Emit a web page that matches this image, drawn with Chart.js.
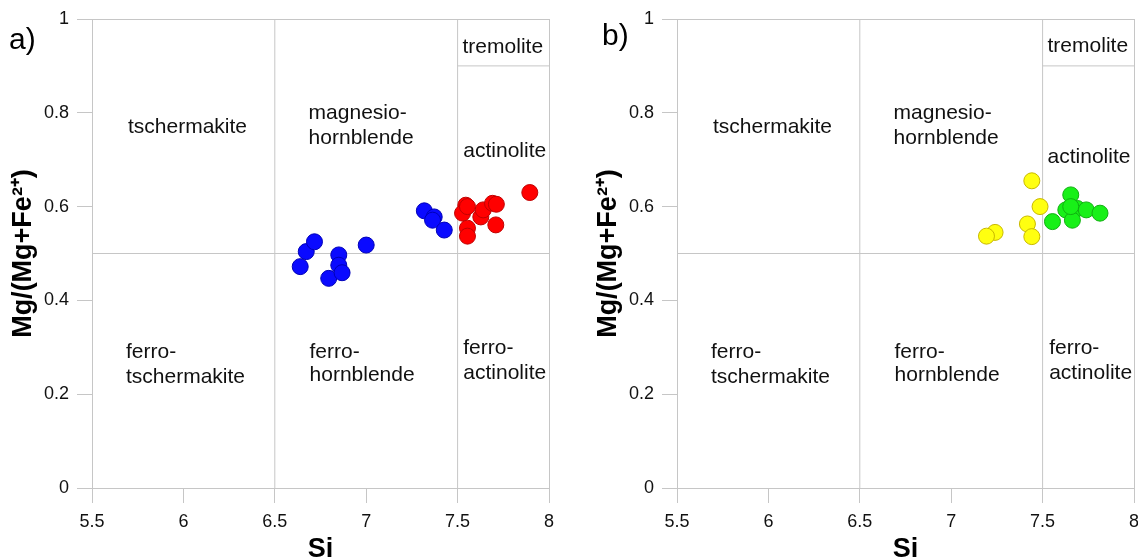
<!DOCTYPE html>
<html>
<head>
<meta charset="utf-8">
<script src="https://cdn.jsdelivr.net/npm/chart.js@4.4.1/dist/chart.umd.min.js"></script>
<style>
  html, body { margin: 0; padding: 0; background: #fff; overflow: hidden; width: 1138px; height: 559px; }
  .panel { position: absolute; top: 0; }
  canvas { display: block; }
  .tag { position: absolute; font: 30px/30px "Liberation Sans", Arial, sans-serif; color: #000; }
</style>
</head>
<body>
<div class="panel" style="left:0"><canvas id="chartA" width="585" height="575"></canvas></div>
<div class="panel" style="left:585px"><canvas id="chartB" width="585" height="575"></canvas></div>
<div class="tag" style="left:9px;top:24px">a)</div>
<div class="tag" style="left:602px;top:20px">b)</div>
<script>
// Panel a: blue and red amphiboles
const siBlue = [6.639, 6.672, 6.717, 6.795, 6.850, 6.850, 6.868, 7.000, 7.318, 7.372, 7.363, 7.427];
const mgBlue = [0.472, 0.504, 0.525, 0.447, 0.497, 0.475, 0.459, 0.518, 0.591, 0.578, 0.571, 0.550];
const siRed = [7.545, 7.527, 7.554, 7.554, 7.554, 7.627, 7.640, 7.691, 7.712, 7.709, 7.895];
const mgRed = [0.603, 0.586, 0.600, 0.554, 0.537, 0.578, 0.593, 0.607, 0.605, 0.561, 0.630];

// Panel b: yellow and green amphiboles
const siYellow = [7.441, 7.486, 7.417, 7.441, 7.240, 7.193];
const mgYellow = [0.655, 0.600, 0.563, 0.536, 0.545, 0.537];
const siGreen = [7.654, 7.627, 7.690, 7.663, 7.739, 7.814, 7.554, 7.654];
const mgGreen = [0.625, 0.593, 0.596, 0.571, 0.593, 0.586, 0.568, 0.600];

// Axis ranges / ticks
const siRange = [5.5, 8];
const siStep = 0.5;
const mgRange = [0, 1];
const mgStep = 0.2;

// Field boundaries of the classification diagram (Si, Mg#)
const boundarySi = [[6.5, 6.5], [7.5, 7.5], [5.5, 8], [7.5, 8]];
const boundaryMg = [[0, 1], [0, 1], [0.5, 0.5], [0.9, 0.9]];

// Field names, anchored at (Si, Mg#)
const fieldText = ['tremolite', 'tschermakite', 'magnesio-', 'hornblende', 'actinolite',
  'ferro-', 'tschermakite', 'ferro-', 'hornblende', 'ferro-', 'actinolite'];
const fieldSiA = [7.527, 5.697, 6.685, 6.685, 7.531, 5.686, 5.686, 6.690, 6.690, 7.531, 7.531];
const fieldMgA = [0.940, 0.770, 0.800, 0.746, 0.719, 0.290, 0.237, 0.290, 0.241, 0.299, 0.245];
const fieldSiB = [7.527, 5.697, 6.685, 6.685, 7.527, 5.686, 5.686, 6.690, 6.690, 7.536, 7.536];
const fieldMgB = [0.942, 0.770, 0.800, 0.746, 0.706, 0.290, 0.237, 0.290, 0.241, 0.299, 0.245];

const GRAY = '#c6c6c6';
const FONT = '"Liberation Sans", Arial, sans-serif';

const toPoints = (xs, ys) => xs.map((x, i) => ({ x, y: ys[i] }));
const shortNum = v => String(Number(v.toFixed(2)));

const fieldLabels = {
  id: 'fieldLabels',
  afterDatasetsDraw(chart, args, opts) {
    const { ctx, scales: { x, y } } = chart;
    ctx.save();
    ctx.font = '21px ' + FONT;
    ctx.fillStyle = '#111';
    ctx.textAlign = 'left';
    ctx.textBaseline = 'middle';
    opts.text.forEach((t, i) => {
      ctx.fillText(t, x.getPixelForValue(opts.si[i]), y.getPixelForValue(opts.mg[i]));
    });
    ctx.restore();
  }
};

function makeChart(id, groups, si, mg) {
  const pointSets = groups.map(g => ({
    data: toPoints(g.x, g.y),
    backgroundColor: g.fill,
    borderColor: g.stroke,
    borderWidth: 1,
    pointRadius: 8,
    pointHoverRadius: 8
  }));
  const lineSets = boundarySi.map((xs, i) => ({
    data: toPoints(xs, boundaryMg[i]),
    showLine: true,
    borderColor: GRAY,
    borderWidth: 1,
    pointRadius: 0
  }));

  return new Chart(document.getElementById(id), {
    type: 'scatter',
    data: { datasets: [...pointSets, ...lineSets] },
    plugins: [fieldLabels],
    options: {
      responsive: false,
      animation: false,
      events: [],
      layout: { padding: { top: 19, right: 36, left: 0, bottom: 0 } },
      plugins: {
        legend: { display: false },
        tooltip: { enabled: false },
        fieldLabels: { text: fieldText, si, mg }
      },
      scales: {
        x: {
          type: 'linear',
          min: siRange[0],
          max: siRange[1],
          afterFit: s => { s.height = 87; },
          ticks: { stepSize: siStep, color: '#111', padding: 8, font: { size: 18, family: FONT }, callback: shortNum },
          grid: {
            color: c => (c.tick && c.tick.value === siRange[1]) ? GRAY : 'rgba(0,0,0,0)',
            tickColor: GRAY,
            tickLength: 15,
            lineWidth: 1
          },
          border: { display: true, color: GRAY, width: 1 },
          title: {
            display: true,
            text: 'Si',
            color: '#000',
            padding: { top: 0, bottom: 9 },
            font: { size: 27, weight: 'bold', family: FONT }
          }
        },
        y: {
          type: 'linear',
          min: mgRange[0],
          max: mgRange[1],
          afterFit: s => { s.width = 92; },
          ticks: { stepSize: mgStep, color: '#111', padding: 8, font: { size: 18, family: FONT }, callback: shortNum },
          grid: {
            color: c => (c.tick && c.tick.value === mgRange[1]) ? GRAY : 'rgba(0,0,0,0)',
            tickColor: GRAY,
            tickLength: 15,
            lineWidth: 1
          },
          border: { display: true, color: GRAY, width: 1 },
          title: {
            display: true,
            text: 'Mg/(Mg+Fe²⁺)',
            color: '#000',
            padding: { top: 7, bottom: 0 },
            font: { size: 27, weight: 'bold', family: FONT }
          }
        }
      }
    }
  });
}

makeChart('chartA', [
  { x: siBlue, y: mgBlue, fill: '#0a0aff', stroke: '#0000b8' },
  { x: siRed, y: mgRed, fill: '#ff0000', stroke: '#c00000' }
], fieldSiA, fieldMgA);

makeChart('chartB', [
  { x: siGreen, y: mgGreen, fill: '#18f018', stroke: '#10b010' },
  { x: siYellow, y: mgYellow, fill: '#ffff10', stroke: '#c8b800' }
], fieldSiB, fieldMgB);
</script>
</body>
</html>
